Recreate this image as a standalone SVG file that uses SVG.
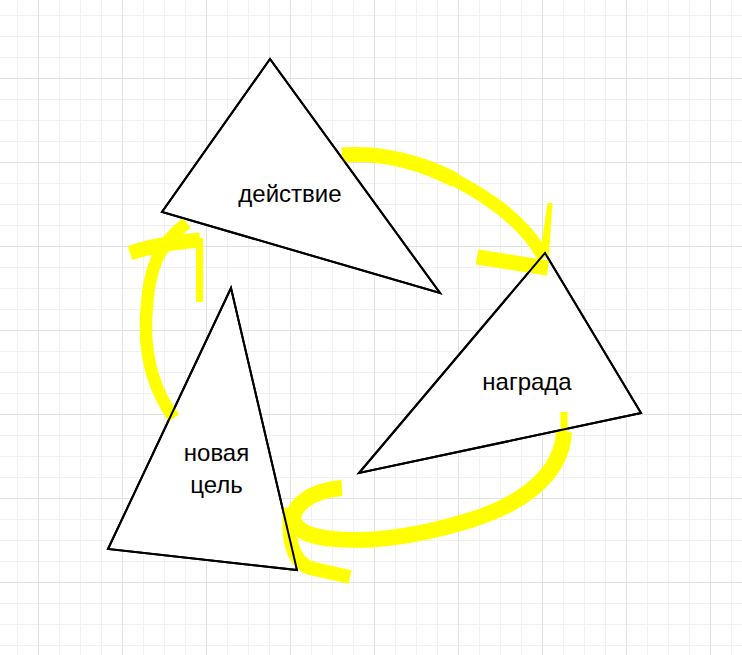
<svg xmlns="http://www.w3.org/2000/svg" xmlns:xlink="http://www.w3.org/1999/xlink" width="742" height="655" viewBox="0 0 742 655">
<style>
.minor{stroke:#f1f1f1;stroke-width:1;fill:none}
.major{stroke:#e2e2e2;stroke-width:1;fill:none}
.tri{fill:#ffffff;stroke:#000000;stroke-width:2;stroke-linejoin:miter}
.triline{fill:none;stroke:#000000;stroke-width:2;stroke-linejoin:miter}
.lbl{font-family:"Liberation Sans",Arial,sans-serif;font-size:24px;fill:#000000;text-anchor:middle}
.hl{fill:none;stroke:#ffff00;stroke-linecap:butt;stroke-linejoin:round}
.hlf{fill:#ffff00;stroke:none}
</style>
<defs>
<polygon id="tri-action" points="270,59 162,212 440,293"/>
<polygon id="tri-reward" points="545,253 641,413 359,473"/>
<polygon id="tri-goal" points="231,288 108,549 297,570"/>
</defs>
<rect x="0" y="0" width="742" height="655" fill="#ffffff"/>
<g id="grid">
<path class="minor" d="M17.5,0V655M59.5,0V655M80.5,0V655M101.5,0V655M143.5,0V655M164.5,0V655M185.5,0V655M227.5,0V655M248.5,0V655M269.5,0V655M311.5,0V655M332.5,0V655M353.5,0V655M395.5,0V655M416.5,0V655M437.5,0V655M479.5,0V655M500.5,0V655M521.5,0V655M563.5,0V655M584.5,0V655M605.5,0V655M647.5,0V655M668.5,0V655M689.5,0V655M731.5,0V655M0,15.5H742M0,36.5H742M0,57.5H742M0,99.5H742M0,120.5H742M0,141.5H742M0,183.5H742M0,204.5H742M0,225.5H742M0,267.5H742M0,288.5H742M0,309.5H742M0,351.5H742M0,372.5H742M0,393.5H742M0,435.5H742M0,456.5H742M0,477.5H742M0,519.5H742M0,540.5H742M0,561.5H742M0,603.5H742M0,624.5H742M0,645.5H742"/>
<path class="major" d="M38.5,0V655M122.5,0V655M206.5,0V655M290.5,0V655M374.5,0V655M458.5,0V655M542.5,0V655M626.5,0V655M710.5,0V655M0,78.5H742M0,162.5H742M0,246.5H742M0,330.5H742M0,414.5H742M0,498.5H742M0,582.5H742"/>
</g>
<g id="node-action">
<use xlink:href="#tri-action" class="tri"/>
<text class="lbl" x="290" y="202">действие</text>
</g>
<g id="node-reward">
<use xlink:href="#tri-reward" class="tri"/>
<text class="lbl" x="527" y="390">награда</text>
</g>
<g id="node-goal">
<use xlink:href="#tri-goal" class="tri"/>
<text class="lbl" x="216.5" y="461">новая</text>
<text class="lbl" x="216.5" y="493">цель</text>
</g>
<g id="connectors">
<g id="action-to-reward">
<path class="hl" stroke-width="15" d="M342,155 C380,152 420,162 455,180"/>
<path class="hl" stroke-width="13" d="M454,179.5 C490,198 525,222 544,258"/>
<path class="hl" stroke-width="15" d="M477,257 L548,268"/>
<polygon class="hlf" points="540,254 549,254 552.5,203 547.5,203"/>
</g>
<g id="reward-to-goal">
<path class="hl" stroke-width="7" d="M564,412 L564,442"/>
<path class="hl" stroke-width="16" d="M564,432 C562,470 530,500 477,518 C440,530 400,539 360,540 C320,540 300,535 294,522 C290,508 310,490 342,488"/>
<path class="hl" stroke-width="14" d="M290,508 C288,535 290,560 310,568 L350,577"/>
</g>
<g id="goal-to-action">
<path class="hl" stroke-width="12.5" d="M174,418 C150,385 143,345 147,305 C149,275 156,245 187,223"/>
<path class="hl" stroke-width="15" d="M130,253 Q160,243 200,240"/>
<path class="hl" stroke-width="7" d="M199.5,238 L199.5,302"/>
</g>
</g>
<g id="outlines">
<use xlink:href="#tri-action" class="triline"/>
<use xlink:href="#tri-reward" class="triline"/>
<use xlink:href="#tri-goal" class="triline"/>
</g>
</svg>
